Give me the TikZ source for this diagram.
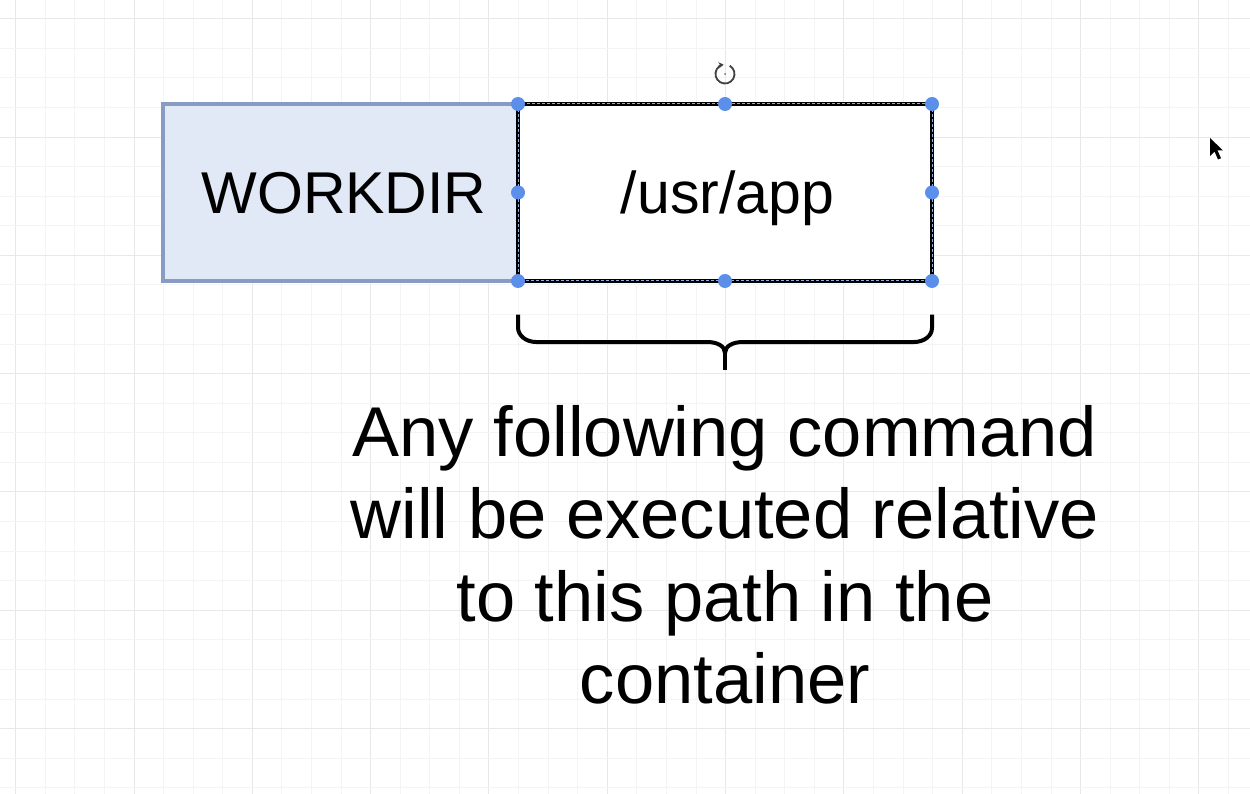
\documentclass[tikz,border=0pt]{standalone}
\usepackage{fontspec}
\setmainfont{Liberation Sans}
\usetikzlibrary{arrows.meta,calc}
\definecolor{gridminor}{HTML}{F4F4F4}
\definecolor{gridmajor}{HTML}{E8E8E8}
\definecolor{wdfill}{HTML}{E1E8F6}
\definecolor{wdline}{HTML}{889BC2}
\definecolor{handle}{HTML}{5B8FEA}
\definecolor{selblue}{HTML}{8FB0E0}
\begin{document}
\begin{tikzpicture}[x=1pt,y=-1pt,
  gridthin/.style={gridminor,line width=1pt},
  gridbold/.style={gridmajor,line width=1pt},
  boxbase/.style={rectangle, minimum height=177pt, inner sep=0pt, outer sep=0pt,
    font=\fontsize{59}{72}\selectfont, text height=43pt, text depth=0pt},
  wdbox/.style={boxbase, minimum width=355pt, fill=wdfill, draw=wdline, line width=4pt},
  appbox/.style={boxbase, minimum width=414pt, fill=white, draw=black, line width=3.5pt},
  seldash/.style={selblue, line width=1pt, dash pattern=on 3pt off 2pt},
  handledot/.style={handle},
  bracepath/.style={black, line width=4pt},
  notetext/.style={font=\fontsize{70.5}{82.5}\selectfont, align=center, inner sep=0pt}
]
\useasboundingbox (0,0) rectangle (1250,794);
\fill[white] (0,0) rectangle (1250,794);
% grid
\foreach \k in {0,...,42}{
  \pgfmathsetmacro{\gx}{15.7+\k*29.58}
  \pgfmathtruncatemacro{\m}{mod(\k,4)}
  \ifnum\m=0
    \draw[gridbold] (\gx,0) -- (\gx,794);
  \else
    \draw[gridthin] (\gx,0) -- (\gx,794);
  \fi
}
\foreach \k in {0,...,26}{
  \pgfmathsetmacro{\gy}{18.7+\k*29.58}
  \pgfmathtruncatemacro{\m}{mod(\k,4)}
  \ifnum\m=0
    \draw[gridbold] (0,\gy) -- (1250,\gy);
  \else
    \draw[gridthin] (0,\gy) -- (1250,\gy);
  \fi
}
% boxes
\node[wdbox] (wd) at (340.5,192.5) {\hspace*{7pt}WORKDIR};
\node[appbox] (app) at (725,192.5) {\hspace*{5pt}/usr/app};
\draw[seldash] (app.north west) rectangle (app.south east);
\foreach \a in {north west,north,north east,west,east,south west,south,south east}
  \fill[handledot] (app.\a) circle (7pt);
% rotation icon
\coordinate (rot) at ($(app.north)+(0,-30)$);
\draw[black!75, line width=1.8pt, -{Stealth[length=5pt,width=6pt]}] ($(rot)+(-60:9.5)$) arc[start angle=-60, end angle=262, radius=9.5];
\fill[black!60] (rot) circle (1pt);
% brace
\coordinate (bl) at ($(app.south west)+(0,33.5)$);
\coordinate (br) at ($(app.south east)+(0,33.5)$);
\coordinate (bt) at ($(app.south)+(0,89)$);
\draw[bracepath] (bl) -- ++(0,13) .. controls +(0,8) and (526,342) .. (536,342)
  -- (707,342) .. controls (717,342) and (725,346) .. (725,353)
  .. controls (725,346) and (733,342) .. (743,342)
  -- (914,342) .. controls (924,342) and (932,336) .. (932,328) -- (br);
\draw[bracepath] (725,351) -- (bt);
% note text
\node[notetext] (note) at (725,555) {Any following command\\will be executed relative\\to this path in the\\container};
% mouse cursor
\fill[black] (1210,138) -- (1210,156) -- (1214.5,151.5) -- (1218,159.5) -- (1221,158.2) -- (1217.5,150.5) -- (1223,150.5) -- cycle;
\end{tikzpicture}
\end{document}
